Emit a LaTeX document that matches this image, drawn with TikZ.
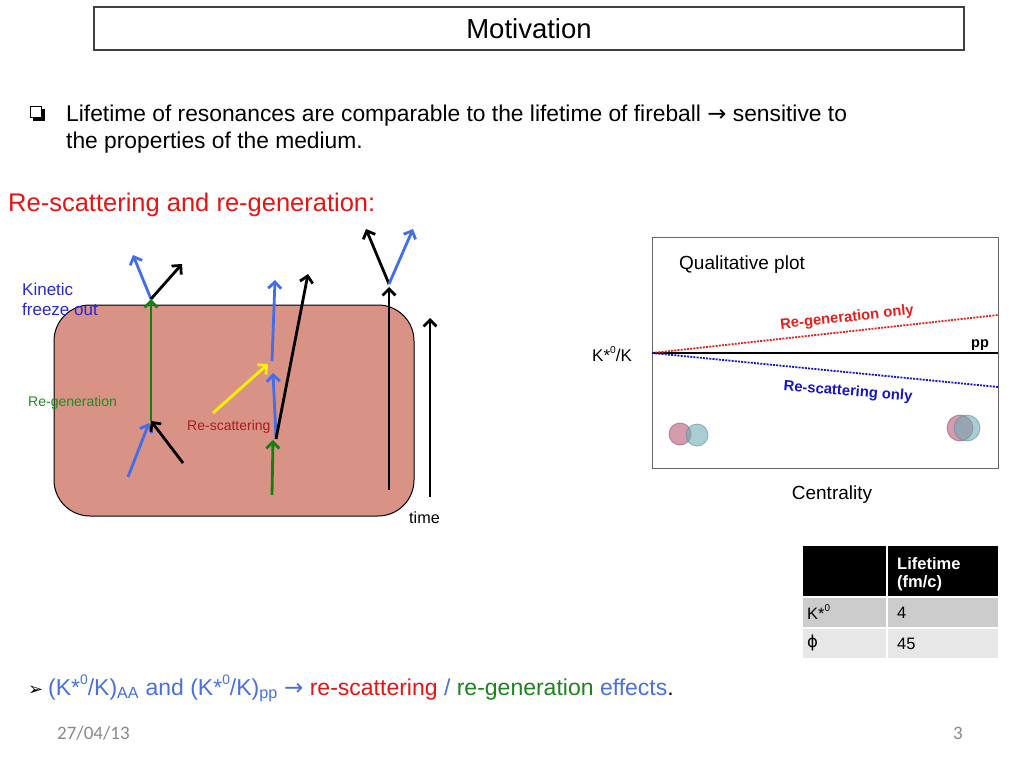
\documentclass[tikz,border=0pt]{standalone}
\usepackage{fontspec}
\setmainfont{Liberation Sans}
\newfontfamily\dejavu{DejaVu Sans}
\newfontfamily\calib{Carlito}
\usetikzlibrary{arrows.meta}
\definecolor{fireball}{RGB}{217,146,134}
\definecolor{arblue}{RGB}{66,110,232}
\definecolor{argreen}{RGB}{16,128,16}
\definecolor{aryellow}{RGB}{255,240,0}
\definecolor{kinblue}{RGB}{40,40,220}
\definecolor{regreen}{RGB}{30,140,30}
\definecolor{resred}{RGB}{170,30,30}
\definecolor{txtblue}{RGB}{72,112,222}
\definecolor{txtred}{RGB}{232,20,20}
\definecolor{txtgreen}{RGB}{30,130,30}
\definecolor{plotred}{RGB}{232,30,30}
\definecolor{plotblue}{RGB}{20,20,200}
\definecolor{cpink}{RGB}{185,90,120}
\definecolor{cteal}{RGB}{110,172,182}
\definecolor{datagrey}{RGB}{137,137,137}
\definecolor{rowa}{RGB}{204,204,204}
\definecolor{rowb}{RGB}{231,231,231}
\tikzset{
  ar/.style={line width=2.8, -{Straight Barb[length=6.5,width=13]}},
  lbl/.style={inner sep=0, anchor=west},
  base/.style={inner sep=0, anchor=base west},
  fs/.style={font=\fontsize{#1}{#1}\selectfont},
  bfs/.style={font=\fontsize{#1}{#1}\selectfont\bfseries},
  cfs/.style={font=\fontsize{#1}{#1}\selectfont\calib},
  circ/.style={draw=#1!80!black, fill=#1, fill opacity=0.6, draw opacity=0.6, line width=0.8},
}
\newcommand{\supz}{\raisebox{0.45em}{\fontsize{0.6em}{0.6em}\selectfont 0}}
\begin{document}
\begin{tikzpicture}[x=1pt,y=-1pt]
\useasboundingbox (0,0) rectangle (1024,768);
\fill[white] (0,0) rectangle (1024,768);

% title
\draw[black!75, line width=1.2] (94,7) rectangle (964,50);
\node[inner sep=0, fs=27.5] (title) at (529,29) {Motivation};

% bullet
\draw[line width=1.2] (30.5,106.5) rectangle (41.5,117.5);
\fill (41.5,109) rectangle (45,120.5);
\fill (33,117.5) rectangle (45,120.5);
\node[base, fs=22.8] (l1) at (66,121) {Lifetime of resonances are comparable to the lifetime of fireball {\dejavu →} sensitive to};
\node[base, fs=22.8] (l2) at (66,148) {the properties of the medium.};

\node[base, fs=25.5, text=txtred] (hdr) at (8,211) {Re-scattering and re-generation:};

% fireball
\draw[fill=fireball, rounded corners=36, line width=1] (54,305) rectangle (414,516);

% left group
\coordinate (g1a) at (151,421);
\coordinate (g1b) at (151,299);
\coordinate (b1s) at (128,477);
\coordinate (k1s) at (183,463);
\coordinate (b1t) at (133,255);
\coordinate (k1t) at (182,264);
\draw[ar, argreen] (g1a) -- (g1b);
\draw[ar, arblue] (b1s) -- (149,423);
\draw[ar, black] (k1s) -- (g1a);
\draw[ar, arblue] (g1b) -- (b1t);
\draw[ar, black] (g1b) -- (k1t);

% middle group
\coordinate (g2a) at (272,495);
\coordinate (g2b) at (273,440);
\coordinate (b2a) at (276,437);
\coordinate (b2b) at (273,373);
\coordinate (y2a) at (213,413);
\coordinate (y2b) at (268,364);
\coordinate (b3a) at (272,361);
\coordinate (b3b) at (275,280);
\coordinate (k2a) at (276,439);
\coordinate (k2b) at (308,274);
\draw[ar, argreen] (g2a) -- (g2b);
\draw[ar, arblue] (b2a) -- (b2b);
\draw[ar, aryellow] (y2a) -- (y2b);
\draw[ar, arblue] (b3a) -- (b3b);
\draw[ar, black] (k2a) -- (k2b);

% right group
\coordinate (k3a) at (389,490);
\coordinate (k3b) at (389,287);
\coordinate (k4b) at (366,229);
\coordinate (b4b) at (413,229);
\coordinate (v) at (389,284);
\draw[ar, black] (k3a) -- (k3b);
\draw[ar, black] (v) -- (k4b);
\draw[ar, arblue] (v) -- (b4b);

% time arrow
\coordinate (t1) at (430,497);
\coordinate (t2) at (430,318);
\draw[ar, black] (t1) -- (t2);

% labels
\node[lbl, fs=17, text=kinblue] (kin) at (22,289) {Kinetic};
\node[lbl, fs=17, text=kinblue] (fro) at (22,309) {freeze out};
\node[lbl, fs=14, text=regreen] (regen) at (28,403) {Re-generation};
\node[lbl, fs=14, text=resred] (resc) at (187,427) {Re-scattering};
\node[lbl, fs=16.2] (time) at (409,518) {time};

% plot
\draw[black!60, line width=0.8] (652,237) rectangle (998,468);
\node[lbl, fs=19] (qp) at (679,265) {Qualitative plot};
\coordinate (o) at (652,353);
\coordinate (pe) at (998,353);
\coordinate (re) at (998,315);
\coordinate (be) at (998,387);
\draw[line width=2] (o) -- (pe);
\draw[plotred, line width=1.8, dash pattern=on 2 off 1.2] (o) -- (re);
\draw[plotblue, line width=1.8, dash pattern=on 2 off 1.2] (o) -- (be);
\node[base, bfs=14.5] (pp) at (971,347) {pp};
\node[inner sep=0, bfs=14.8, text=plotred, rotate=6.3] (rgo) at (847,318) {Re-generation only};
\node[inner sep=0, bfs=14.8, text=plotblue, rotate=-4.6] (rso) at (848,392) {Re-scattering only};
\node[lbl, fs=17] (ky) at (592,354) {K*\supz/K};
\node[inner sep=0, fs=19] (cent) at (832,495) {Centrality};
\draw[circ=cpink] (680,434) circle (11);
\draw[circ=cteal] (697,435) circle (11);
\draw[circ=cpink] (960,428) circle (13);
\draw[circ=cteal] (967,428) circle (13);

% table
\fill[black] (803,546) rectangle (886,596);
\fill[black] (888,546) rectangle (998,596);
\fill[rowa] (803,598) rectangle (886,627);
\fill[rowa] (888,598) rectangle (998,627);
\fill[rowb] (803,629) rectangle (886,658);
\fill[rowb] (888,629) rectangle (998,658);
\node[lbl, bfs=16.5, text=white] (lt1) at (897,564) {Lifetime};
\node[lbl, bfs=16.5, text=white] (lt2) at (897,583) {(fm/c)};
\node[lbl, fs=16.5] (c1) at (807,612) {K*\supz};
\node[lbl, fs=16.5] (c2) at (897,613) {4};
\node[lbl, fs=16.5] (c3) at (807,643) {\dejavu ϕ};
\node[lbl, fs=16.5] (c4) at (897,644) {45};

% bottom line
\node[base, fs=18] (arr) at (28,695) {\dejavu ➢};
\node[base, fs=23, text=txtblue] (bl) at (48,695) {(K*\supz/K)\textsubscript{AA} and (K*\supz/K)\textsubscript{pp} {\dejavu →} \textcolor{txtred}{re-scattering} / \textcolor{txtgreen}{re-generation} effects\textcolor{black}{.}};

% footer
\node[lbl, cfs=19, text=datagrey] (date) at (57,733) {27/04/13};
\node[inner sep=0, cfs=19, text=datagrey] (pg) at (958,733) {3};
\end{tikzpicture}
\end{document}
